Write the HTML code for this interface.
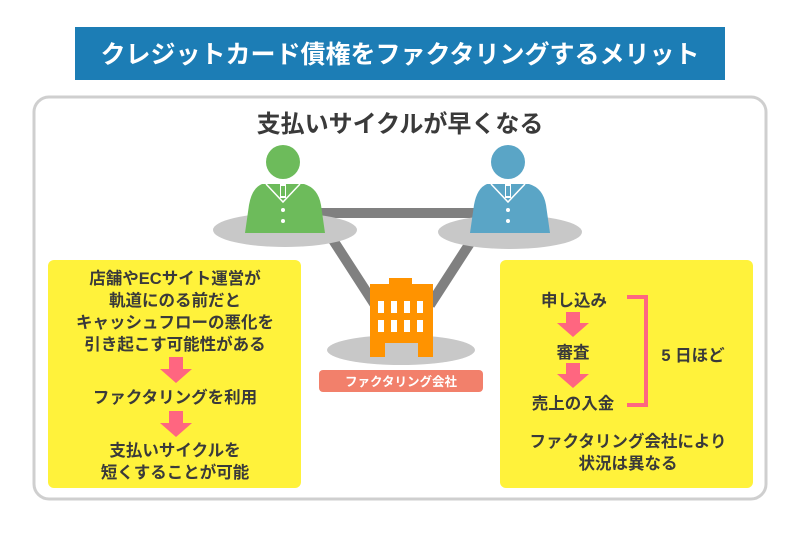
<!DOCTYPE html>
<html><head><meta charset="utf-8"><style>
body{margin:0;background:#fff}
svg{display:block}
text{font-family:"Liberation Sans","Noto Sans CJK JP",sans-serif;font-weight:bold}
</style></head><body>
<svg width="800" height="533" viewBox="0 0 800 533" xmlns="http://www.w3.org/2000/svg">
<rect x="75" y="27" width="650" height="53" fill="#1c7db5"/>
<text x="400" y="63" font-size="25" fill="#fff" text-anchor="middle">クレジットカード債権をファクタリングするメリット</text>
<rect x="34" y="97" width="732" height="402" rx="15" fill="#fff" stroke="#cfcfcf" stroke-width="3"/>
<text x="400" y="132" font-size="24" fill="#3a3a3a" text-anchor="middle">支払いサイクルが早くなる</text>
<line x1="315" y1="213" x2="480" y2="213" stroke="#808080" stroke-width="10"/>
<line x1="333" y1="240" x2="375" y2="305" stroke="#808080" stroke-width="10"/>
<line x1="472" y1="240" x2="430" y2="305" stroke="#808080" stroke-width="10"/>
<ellipse cx="285" cy="230" rx="72" ry="17" fill="#c8c8c8"/>
<ellipse cx="510" cy="232" rx="72" ry="17" fill="#c8c8c8"/>
<ellipse cx="401" cy="350" rx="74" ry="15" fill="#c8c8c8"/>
<circle cx="283" cy="162" r="17" fill="#6dbb5b"/>
<path d="M262 184 L304 184 Q318 188 321 205 L325 233 L245 233 L249 205 Q252 188 262 184Z" fill="#6dbb5b"/>
<path d="M266 184 L283 202 L300 184" fill="none" stroke="#fff" stroke-width="1.5"/>
<rect x="280" y="182" width="6" height="16" fill="#fff"/>
<rect x="281" y="186" width="4" height="10" fill="#6dbb5b"/>
<circle cx="283" cy="210" r="2" fill="#fff"/><circle cx="283" cy="221" r="2" fill="#fff"/>
<circle cx="508" cy="162" r="17" fill="#5aa5c6"/>
<path d="M487 184 L529 184 Q543 188 546 205 L550 233 L470 233 L474 205 Q477 188 487 184Z" fill="#5aa5c6"/>
<path d="M491 184 L508 202 L525 184" fill="none" stroke="#fff" stroke-width="1.5"/>
<rect x="505" y="182" width="6" height="16" fill="#fff"/>
<rect x="506" y="186" width="4" height="10" fill="#5aa5c6"/>
<circle cx="508" cy="210" r="2" fill="#fff"/><circle cx="508" cy="221" r="2" fill="#fff"/>
<path d="M370 284 L389 284 L389 278 L412 278 L412 284 L433 284 L433 357 L418 357 L418 343 L385 343 L385 357 L370 357Z" fill="#ff9300"/>
<g fill="#fff">
<rect x="378" y="301" width="6" height="12"/><rect x="391" y="301" width="6" height="12"/><rect x="404" y="301" width="6" height="12"/><rect x="417" y="301" width="6" height="12"/>
<rect x="378" y="320" width="6" height="12"/><rect x="391" y="320" width="6" height="12"/><rect x="404" y="320" width="6" height="12"/><rect x="417" y="320" width="6" height="12"/>
</g>
<rect x="319" y="370" width="164" height="22" rx="4" fill="#f2806b"/>
<text x="401" y="386" font-size="12.5" fill="#fff" text-anchor="middle">ファクタリング会社</text>
<rect x="48" y="260" width="253" height="228" rx="6" fill="#fff23b"/>
<g font-size="16.5" fill="#3a3a3a" text-anchor="middle">
<text x="175" y="284">店舗やECサイト運営が</text>
<text x="175" y="306">軌道にのる前だと</text>
<text x="175" y="328">キャッシュフローの悪化を</text>
<text x="175" y="350">引き起こす可能性がある</text>
<text x="175" y="403">ファクタリングを利用</text>
<text x="175" y="456">支払いサイクルを</text>
<text x="175" y="478">短くすることが可能</text>
</g>
<path d="M169 357 H183 V369 H192 L176 383 L160 369 H169Z" fill="#ff6680"/>
<path d="M169 411 H183 V423 H192 L176 437 L160 423 H169Z" fill="#ff6680"/>
<rect x="500" y="260" width="253" height="228" rx="6" fill="#fff23b"/>
<g font-size="16.5" fill="#3a3a3a" text-anchor="middle">
<text x="574" y="306">申し込み</text>
<text x="573" y="358">審査</text>
<text x="573" y="409">売上の入金</text>
<text x="693" y="361">5 日ほど</text>
<text x="628" y="447">ファクタリング会社により</text>
<text x="628" y="469">状況は異なる</text>
</g>
<path d="M566 312 H580 V323 H589 L573 337 L557 323 H566Z" fill="#ff6680"/>
<path d="M566 363 H580 V374 H589 L573 388 L557 374 H566Z" fill="#ff6680"/>
<path d="M627 297 H646 V405 H627" fill="none" stroke="#ff6680" stroke-width="4"/>
</svg>
</body></html>
